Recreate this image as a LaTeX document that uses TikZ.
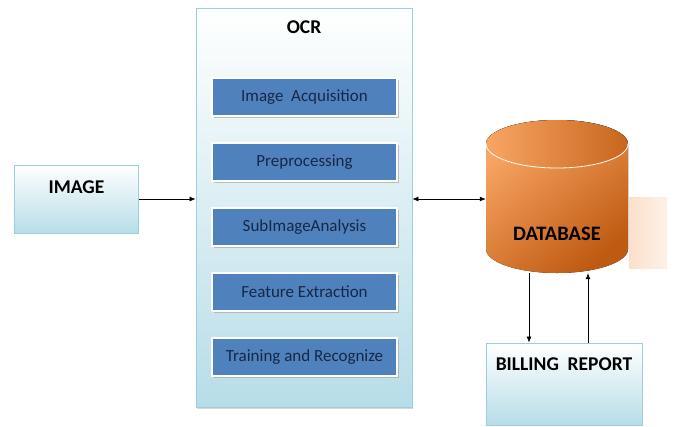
\documentclass[tikz,border=0pt]{standalone}
\usepackage{fontspec}
\setmainfont{Carlito}
\usepackage{tikz}
\usetikzlibrary{arrows.meta, positioning, shadows}
\usepackage{xcolor}
\definecolor{boxblue}{HTML}{4F81BD}
\definecolor{navy}{HTML}{172847}
\definecolor{paleblue}{HTML}{B7DDE8}
\definecolor{edgeblue}{HTML}{9CCFDD}
\definecolor{dblight}{HTML}{F8A664}
\definecolor{dbdark}{HTML}{BF5A12}
\definecolor{peach}{HTML}{FBE0CC}

\tikzset{
  outerbox/.style={draw=edgeblue, line width=0.8pt, top color=white, bottom color=paleblue,
    inner sep=0pt, font=\fontsize{19.5}{22}\selectfont\bfseries},
  stagebox/.style={draw=white, line width=2pt, fill=boxblue, text=navy,
    minimum width=185pt, minimum height=38pt, inner sep=0pt, font=\fontsize{17}{20}\selectfont,
    drop shadow={shadow xshift=1.5pt, shadow yshift=-2pt, fill=gray!70, opacity=0.7}},
  link/.style={-{Latex[length=6pt,width=5pt]}, line width=0.7pt},
  twoway/.style={{Latex[length=6pt,width=5pt]}-{Latex[length=6pt,width=5pt]}, line width=0.7pt},
}

\begin{document}
\begin{tikzpicture}[x=1pt, y=-1pt]
\fill[white] (0,0) rectangle (676,426);

% input
\node[outerbox, minimum width=124pt, minimum height=68pt, text height=13pt, text depth=25pt] (img) at (76.5,199) {IMAGE};

% OCR block with its stages
\node[outerbox, minimum width=216pt, minimum height=399pt,
  drop shadow={shadow xshift=1pt, shadow yshift=-2pt, fill=gray!50, opacity=0.6}] (ocr) at (304,207.5) {};
\node[font=\fontsize{19.5}{22}\selectfont\bfseries, below=10pt of ocr.north] (ocrtitle) {OCR};
\foreach \txt [count=\i] in {Image~~Acquisition, Preprocessing, SubImageAnalysis, Feature Extraction, Training and Recognize} {
    \node[stagebox] (stage\i) at (304.5,32+65*\i) {\txt};
}

% database cylinder
\fill[left color=peach, right color=peach!45] (629,197) rectangle (667,268);
\fill[top color=dblight, bottom color=dbdark, shading angle=40]
  (486,144) -- (486,249) arc[start angle=180, end angle=0, x radius=71, y radius=24]
  -- (628,144) arc[start angle=0, end angle=-180, x radius=71, y radius=24] -- cycle;
\fill[left color=dblight, right color=dbdark!85!dblight] (557,144) ellipse[x radius=71, y radius=24];
\draw[white, line width=0.8pt] (486,144) arc[start angle=180, end angle=0, x radius=71, y radius=24];
\node[font=\fontsize{20.5}{22}\selectfont\bfseries, minimum width=142pt, minimum height=153pt,
  inner sep=0pt, text height=87pt, text depth=0pt] (db) at (557,196.5) {DATABASE};

% output
\node[outerbox, minimum width=156pt, minimum height=82pt, text height=13pt, text depth=41pt] (bill) at (564,384) {BILLING~~REPORT};

% connectors
\draw[link] (img.east) -- (img.east -| ocr.west);
\draw[twoway] (img.east -| ocr.east) -- (img.east -| db.west);
\draw[link] ([xshift=-35pt]bill.north |- db.south) -- ([xshift=-35pt]bill.north);
\draw[link] ([xshift=24pt]bill.north) -- ([xshift=24pt]bill.north |- db.south);
\end{tikzpicture}
\end{document}
